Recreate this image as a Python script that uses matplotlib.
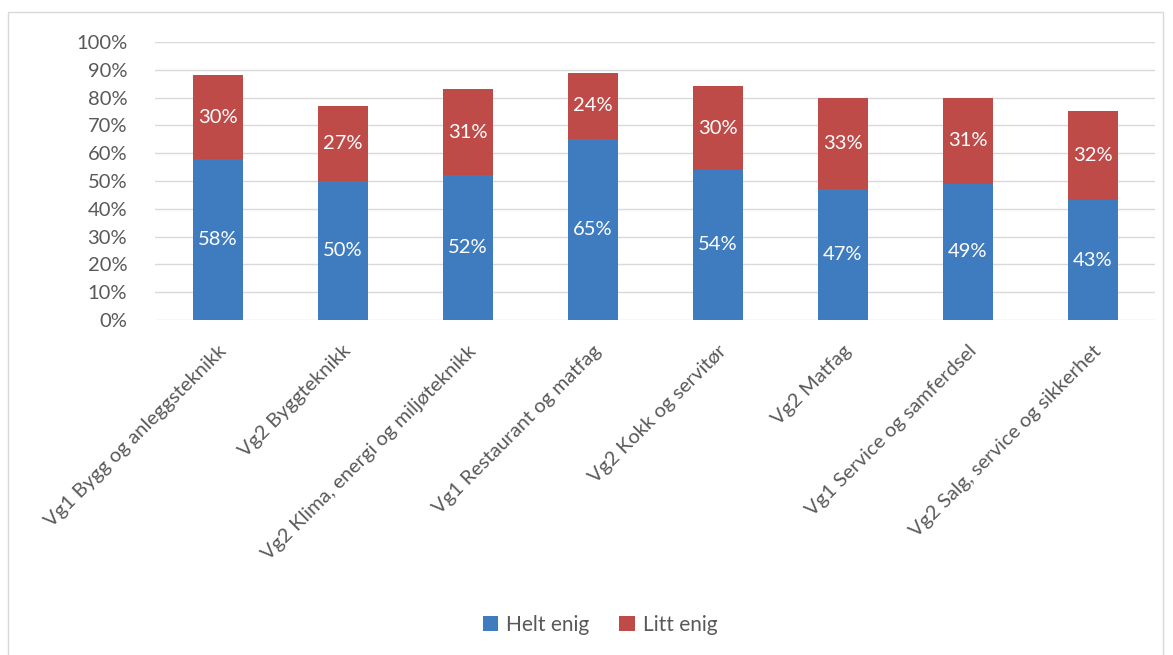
import numpy as np
import matplotlib
matplotlib.use('Agg')
import matplotlib.pyplot as plt
from matplotlib.ticker import PercentFormatter
from matplotlib.patches import Rectangle

plt.rcParams['font.family'] = ['Lato', 'DejaVu Sans']

# data
categories = ['Vg1 Bygg og anleggsteknikk', 'Vg2 Byggteknikk', 'Vg2 Klima, energi og miljøteknikk',
              'Vg1 Restaurant og matfag', 'Vg2 Kokk og servitør', 'Vg2 Matfag',
              'Vg1 Service og samferdsel', 'Vg2 Salg, service og sikkerhet']
helt_enig = [58, 50, 52, 65, 54, 47, 49, 43]
litt_enig = [30, 27, 31, 24, 30, 33, 31, 32]

blue = '#3F7CBF'
red = '#BE4B48'
grey = '#595959'

fig = plt.figure(figsize=(11.73, 6.55), dpi=100)
ax = fig.add_axes([155 / 1173, 1 - 320 / 655, 1000 / 1173, 278 / 655])

x = np.arange(len(categories))
b1 = ax.bar(x, helt_enig, width=0.4, color=blue, label='Helt enig', zorder=3)
b2 = ax.bar(x, litt_enig, width=0.4, bottom=helt_enig, color=red, label='Litt enig', zorder=3)

for bars, vals, base in [(b1, helt_enig, [0] * len(x)), (b2, litt_enig, helt_enig)]:
    for bar, v, b in zip(bars, vals, base):
        ax.text(bar.get_x() + bar.get_width() / 2, b + v / 2, f'{v}%',
                ha='center', va='center', color='white', fontsize=14.5, zorder=4)

ax.set_xlim(-0.5, len(x) - 0.5)
ax.set_ylim(0, 100)
ax.set_yticks(np.arange(0, 101, 10))
ax.yaxis.set_major_formatter(PercentFormatter(decimals=0))
ax.grid(axis='y', color='#D9D9D9', linewidth=1, zorder=0)
for s in ax.spines.values():
    s.set_visible(False)
ax.tick_params(length=0, labelsize=14.5, colors=grey)
ax.tick_params(axis='y', pad=20)
ax.set_xticks(x)
ax.set_xticklabels(categories, rotation=45, ha='right', rotation_mode='anchor')
ax.tick_params(axis='x', pad=16)

fig.legend(handles=[b1, b2], loc='center', bbox_to_anchor=(600 / 1173, 1 - 625 / 655),
           ncol=2, frameon=False, fontsize=15, labelcolor=grey,
           handlelength=0.75, handleheight=0.75, handletextpad=0.4, columnspacing=1.4)

fig.patches.append(Rectangle((8 / 1173, -0.01), 1155 / 1173, 1 - 12 / 655 + 0.01,
                             transform=fig.transFigure, fill=False, edgecolor='#D9D9D9', linewidth=1))

fig.savefig('out.png', dpi=100)
